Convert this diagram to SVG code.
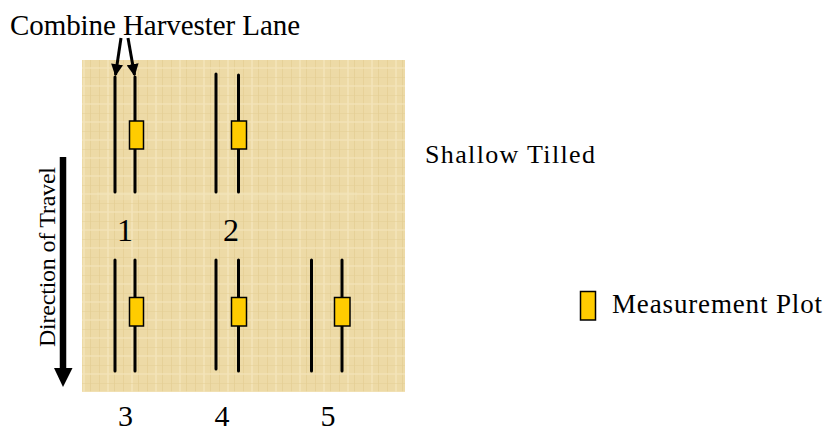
<svg xmlns="http://www.w3.org/2000/svg" width="827" height="433" viewBox="0 0 827 433">
<style>
text{font-family:"Liberation Serif","Times New Roman",serif;fill:#000}
.lane{stroke:#000;stroke-width:3;stroke-linecap:round}
.plot{fill:#FFCC00;stroke:#000;stroke-width:1.5}
.conn{stroke:#000;stroke-width:3;fill:none}
</style>
<defs>
<marker id="ah" viewBox="0 0 10 10" refX="9" refY="5" markerWidth="4.2" markerHeight="4" orient="auto" markerUnits="strokeWidth">
<path d="M0,0 L10,5 L0,10 z" fill="#000"/>
</marker>
<pattern id="tex" x="0" y="0" width="24" height="18" patternUnits="userSpaceOnUse">
<rect width="24" height="18" fill="#EDDAA6"/>
<rect x="3" y="0" width="1" height="18" fill="#E2CB8F" opacity="0.6"/>
<rect x="11" y="0" width="2" height="18" fill="#F4E6BD" opacity="0.7"/>
<rect x="18" y="0" width="1" height="18" fill="#E0C88A" opacity="0.5"/>
<rect x="0" y="5" width="24" height="1" fill="#E4CE94" opacity="0.5"/>
<rect x="0" y="13" width="24" height="2" fill="#F3E4BA" opacity="0.6"/>
</pattern>
</defs>
<g id="field">
<rect x="82" y="60" width="323" height="332" fill="url(#tex)"/>
<rect x="97" y="192" width="260" height="8" fill="#F4E6C0" opacity="0.25"/>
</g>
<g id="lane-1">
<line class="lane" x1="115" y1="77" x2="115" y2="192"/>
<line class="lane" x1="135" y1="77" x2="135" y2="192"/>
<rect class="plot" x="129.5" y="121" width="14" height="28"/>
<text x="125" y="241" font-size="32" text-anchor="middle">1</text>
</g>
<g id="lane-2">
<line class="lane" x1="216" y1="74" x2="216" y2="192"/>
<line class="lane" x1="238.5" y1="75" x2="238.5" y2="192"/>
<rect class="plot" x="231.5" y="121" width="15" height="28"/>
<text x="231" y="241" font-size="32" text-anchor="middle">2</text>
</g>
<g id="lane-3">
<line class="lane" x1="115" y1="260" x2="115" y2="371"/>
<line class="lane" x1="135" y1="260" x2="135" y2="371"/>
<rect class="plot" x="129.5" y="297.5" width="14" height="28.5"/>
<text x="125.5" y="426" font-size="30" text-anchor="middle">3</text>
</g>
<g id="lane-4">
<line class="lane" x1="216" y1="260" x2="216" y2="369"/>
<line class="lane" x1="238.5" y1="260" x2="238.5" y2="371"/>
<rect class="plot" x="231.5" y="297.5" width="15" height="28.5"/>
<text x="222" y="426" font-size="30" text-anchor="middle">4</text>
</g>
<g id="lane-5">
<line class="lane" x1="311.5" y1="260" x2="311.5" y2="371"/>
<line class="lane" x1="342" y1="260" x2="342" y2="371"/>
<rect class="plot" x="334.5" y="297.5" width="15.5" height="28.5"/>
<text x="328" y="426" font-size="30" text-anchor="middle">5</text>
</g>
<g id="label-combine">
<text x="10" y="35" font-size="29" textLength="290" lengthAdjust="spacing">Combine Harvester Lane</text>
</g>
<g id="label-shallow">
<text x="425" y="163" font-size="26" textLength="170" lengthAdjust="spacing">Shallow Tilled</text>
</g>
<g id="legend">
<rect class="plot" x="580.5" y="291.5" width="15" height="28.5"/>
<text x="612" y="313" font-size="27" textLength="210" lengthAdjust="spacing">Measurement Plot</text>
</g>
<g id="direction">
<line x1="63" y1="157" x2="63" y2="370" stroke="#000" stroke-width="6.5"/>
<path d="M54,368 L72.5,368 L63,387 z" fill="#000"/>
<text transform="translate(55,347) rotate(-90)" font-size="24" textLength="180" lengthAdjust="spacing">Direction of Travel</text>
</g>
<g id="connectors">
<line class="conn" x1="121" y1="38" x2="115.5" y2="75" marker-end="url(#ah)"/>
<line class="conn" x1="128" y1="38" x2="134.5" y2="75" marker-end="url(#ah)"/>
</g>
</svg>
